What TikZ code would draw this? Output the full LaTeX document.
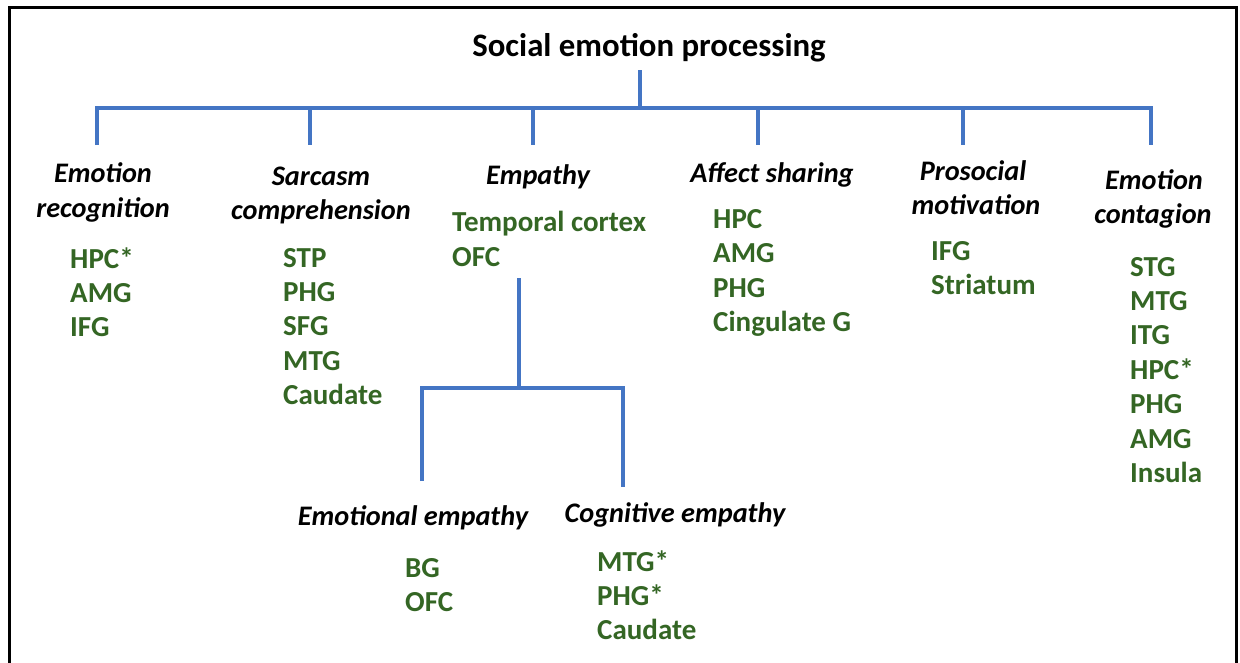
\documentclass[tikz,border=0pt]{standalone}
\usepackage{fontspec}
\setmainfont{Carlito}
\definecolor{treeblue}{RGB}{68,117,196}
\definecolor{areagreen}{RGB}{52,102,36}
\newcommand\arealist[4]{%
  \foreach \t [count=\i] in {#4} \node[area] (#1-\i) at (#2, {#3+34.4*(\i-1)}) {\t};}
\begin{document}
\begin{tikzpicture}[x=1pt,y=-1pt,
  head/.style={font=\fontsize{28.3}{34}\selectfont\bfseries\itshape, text=black, inner sep=0pt, anchor=base},
  titlestyle/.style={font=\fontsize{32.8}{38}\selectfont\bfseries, text=black, inner sep=0pt, anchor=base},
  area/.style={font=\fontsize{29}{34}\selectfont\bfseries, text=areagreen, inner sep=0pt, anchor=base west},
  branch/.style={draw=treeblue, line width=4.5pt, line join=miter},
  framestyle/.style={draw=black, line width=3pt}]
\useasboundingbox (0,0) rectangle (1240,662);
\draw[framestyle] (9,670) -- (9,7) -- (1236,7) -- (1236,670);

% title
\node[titlestyle] (title) at (649,56) {Social emotion processing};

% tree coordinates
\coordinate (stem) at (640,70);
\coordinate (hub) at (640,108);
\foreach \n/\x in {1/97,2/310,3/533,4/758,5/963,6/1151}{
  \coordinate (b\n) at (\x,108);
  \coordinate (e\n) at (\x,145);
}
\draw[branch] (stem) -- (hub);
\draw[branch] (e1) -- (b1) -- (b6) -- (e6);
\foreach \n in {2,3,4,5} \draw[branch] (b\n) -- (e\n);

% headings
\node[head] (er-a) at (103,182) {Emotion};
\node[head] (er-b) at (103,217) {recognition};
\node[head] (sc-a) at (321,185) {Sarcasm};
\node[head] (sc-b) at (321,219) {comprehension};
\node[head] (emp) at (538,184) {Empathy};
\node[head] (as) at (772,182) {Affect sharing};
\node[head] (pm-a) at (973,180) {Prosocial};
\node[head] (pm-b) at (976,214) {motivation};
\node[head] (ec-a) at (1154,189) {Emotion};
\node[head] (ec-b) at (1153,223) {contagion};

% area lists
\arealist{er}{70}{268}{HPC*, AMG, IFG}
\arealist{sc}{283}{267}{STP, PHG, SFG, MTG, Caudate}
\node[area] (emp-1) at (452,231) {Temporal cortex};
\node[area] (emp-2) at (452,266) {OFC};
\arealist{as}{713}{228.5}{HPC, AMG, PHG, Cingulate G}
\arealist{pm}{931}{260}{IFG, Striatum}
\arealist{ec}{1130}{276}{STG, MTG, ITG, HPC*, PHG, AMG, Insula}

% empathy subtree
\coordinate (s0) at (519,278);
\coordinate (s1) at (519,388);
\coordinate (sl) at (422,388);
\coordinate (sr) at (623,388);
\coordinate (sle) at (422,481);
\coordinate (sre) at (623,487);
\draw[branch] (s0) -- (s1);
\draw[branch] (sle) -- (sl) -- (sr) -- (sre);

\node[head] (ee) at (413,525) {Emotional empathy};
\node[head] (ce) at (675,522) {Cognitive empathy};
\arealist{ee}{405}{577}{BG, OFC}
\arealist{ce}{597}{571}{MTG*, PHG*, Caudate}
\end{tikzpicture}
\end{document}
